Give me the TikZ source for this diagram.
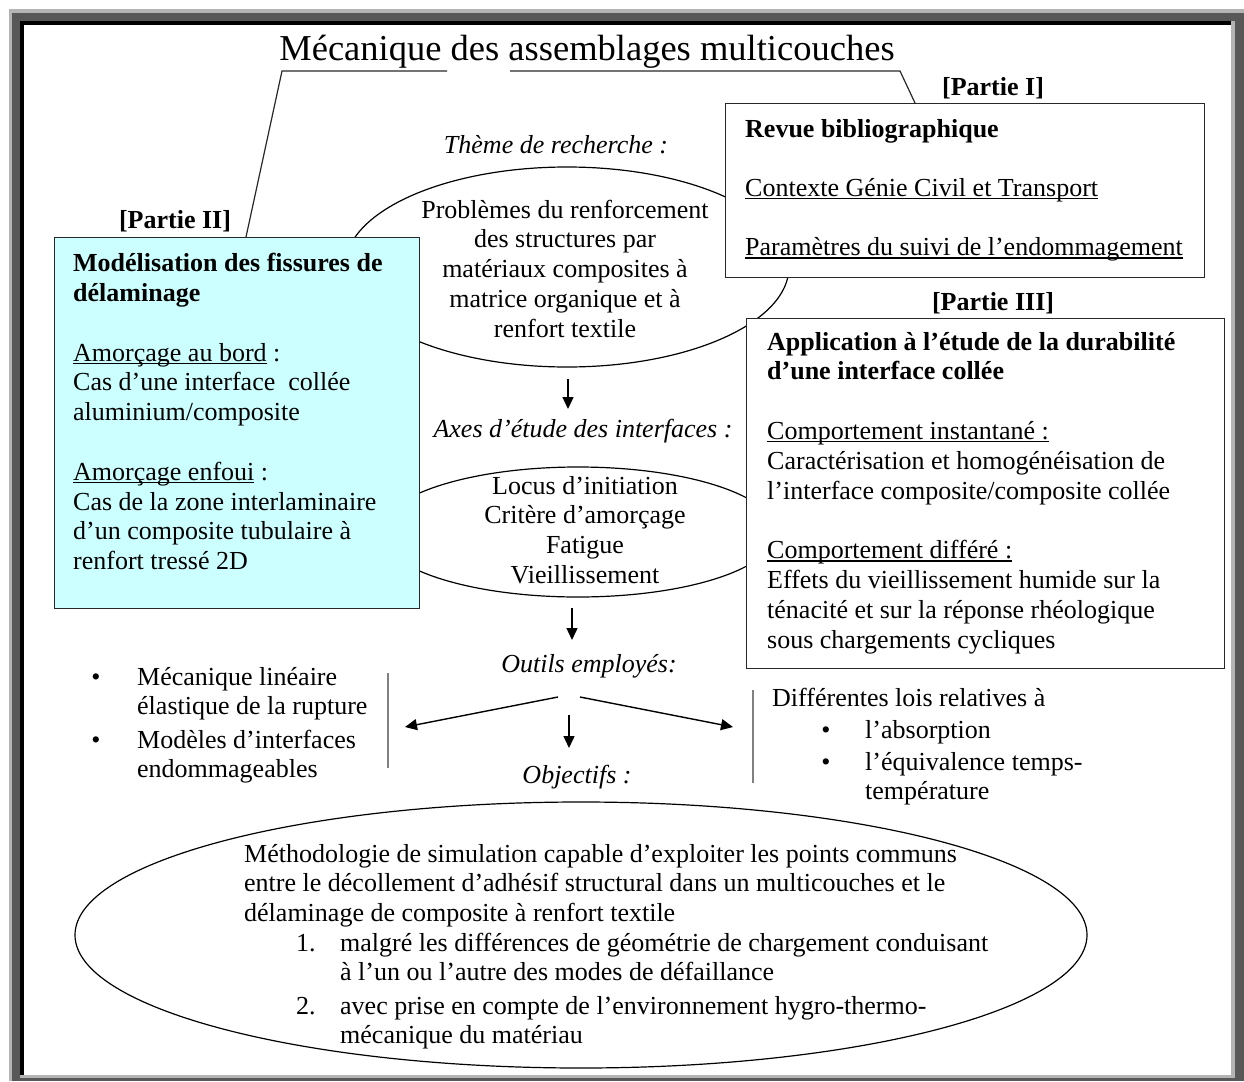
\documentclass[tikz,border=0pt]{standalone}
\usepackage{fontspec}
\setmainfont{Liberation Serif}
\usetikzlibrary{arrows.meta,shapes.geometric}
\definecolor{boxcyan}{RGB}{204,255,255}
\definecolor{framelight}{RGB}{180,180,180}
\definecolor{framedark}{RGB}{88,88,88}
\definecolor{linecol}{RGB}{40,40,40}
\newcommand\uln[1]{\leavevmode\setbox0\hbox{#1}\rlap{\rule[-3pt]{\wd0}{1.2pt}}\box0}
\tikzset{
 body/.style={font=\fontsize{26}{29.8}\selectfont, inner sep=0pt},
 blockl/.style={body, align=left, anchor=north west},
 blockc/.style={body, align=center, anchor=north},
 lbl/.style={font=\fontsize{26}{29.8}\selectfont\itshape, inner sep=0pt, anchor=base},
 tag/.style={font=\fontsize{26}{29.8}\selectfont\bfseries, inner sep=0pt, anchor=base},
 panel/.style={draw=linecol, line width=1.3pt, anchor=north west, inner sep=0pt},
 oval/.style={ellipse, draw=black, line width=1.2pt, inner sep=0pt},
 arr/.style={line width=1.4pt, -{Triangle[length=12pt,width=11pt]}},
 bar/.style={draw=gray, line width=1.6pt},
 callout/.style={draw=linecol, line width=1.2pt},
}
\begin{document}
\begin{tikzpicture}[x=1pt,y=-1pt]
\useasboundingbox (0,0) rectangle (1244,1081);
% frame
\fill[framelight] (9,9) rectangle (1244,1081);
\fill[framedark] (12,13) rectangle (1244,1081);
\fill[framelight] (20,21) rectangle (1235,1078);
\fill[black] (20,21) rectangle (1231,1075);
\fill[white] (24,25) rectangle (1231,1075);

% ellipses (behind boxes)
\node[oval, minimum width=444pt, minimum height=200pt] (theme) at (567,267) {};
\node[oval, minimum width=396pt, minimum height=130pt] (axes) at (578,532) {};
\node[oval, minimum width=1012pt, minimum height=266pt] (goal) at (581,935) {};

% boxes
\node[panel, fill=boxcyan, minimum width=365pt, minimum height=371pt] (leftbox) at (54,237) {};
\node[panel, fill=white, minimum width=479pt, minimum height=174pt] (bibbox) at (725,103) {};
\node[panel, fill=white, minimum width=478pt, minimum height=350pt] (appbox) at (746,318) {};

% title and callout lines
\node[font=\fontsize{36.5}{40}\selectfont, inner sep=0pt, anchor=base] (title) at (587,60) {Mécanique des assemblages multicouches};
\coordinate (k1) at (282,71);
\coordinate (k2) at (447,71);
\coordinate (k3) at (510,71);
\coordinate (k4) at (900,71);
\draw[callout] ([xshift=192pt]leftbox.north west) -- (k1) -- (k2);
\draw[callout] (k3) -- (k4) -- ([xshift=190pt]bibbox.north west);

% part tags
\node[tag] (t2) at (175,228) {[Partie II]};
\node[tag] (t1) at (993,95) {[Partie I]};
\node[tag] (t3) at (993,310) {[Partie III]};

% left box text
\node[blockl] (lefttxt) at (73,250.6) {\strut\textbf{Modélisation des fissures de}\\\textbf{délaminage}\\[29.8pt]
\uln{Amorçage au bord}\ :\\Cas d’une interface\ \ collée\\aluminium/composite\\[29.8pt]
\uln{Amorçage enfoui}\ :\\Cas de la zone interlaminaire\\d’un composite tubulaire à\\renfort tressé 2D};

% bib box text
\node[blockl] (bibtxt) at (745,116) {\strut\textbf{Revue bibliographique}\\[29.5pt]
\uln{Contexte Génie Civil et Transport}\\[29.5pt]
\uln{Paramètres du suivi de l’endommagement}};

% application box text
\node[blockl] (apptxt) at (767,329) {\strut\textbf{Application à l’étude de la durabilité}\\\textbf{d’une interface collée}\\[29.8pt]
\uln{Comportement instantané :}\\Caractérisation et homogénéisation de\\l’interface composite/composite collée\\[29.8pt]
\uln{Comportement différé :}\\Effets du vieillissement humide sur la\\ténacité et sur la réponse rhéologique\\sous chargements cycliques};

% theme ellipse
\node[lbl] (themelbl) at (556,153) {Thème de recherche :};
\node[blockc] (themetxt) at (565,197) {\strut Problèmes du renforcement\\des structures par\\matériaux composites à\\matrice organique et à\\renfort textile};
\coordinate (a1s) at (568,379);
\coordinate (a1e) at (568,409);
\draw[arr] (a1s) -- (a1e);

% axes ellipse
\node[lbl] (axeslbl) at (583,437) {Axes d’étude des interfaces :};
\node[blockc] (axestxt) at (585,473) {\strut Locus d’initiation\\Critère d’amorçage\\Fatigue\\Vieillissement};
\coordinate (a2s) at (572,608);
\coordinate (a2e) at (572,640);
\draw[arr] (a2s) -- (a2e);

% tools
\node[lbl] (toolslbl) at (589,672) {Outils employés:};
\coordinate (o1) at (558,697);
\coordinate (o2) at (580,697);
\coordinate (o3) at (569,715);
\coordinate (ol) at (405,727);
\coordinate (or) at (733,727);
\coordinate (om) at (569,748);
\draw[arr] (o1) -- (ol);
\draw[arr] (o2) -- (or);
\draw[arr] (o3) -- (om);
\coordinate (b1t) at (388,673);
\coordinate (b1b) at (388,768);
\coordinate (b2t) at (753,690);
\coordinate (b2b) at (753,783);
\draw[bar] (b1t) -- (b1b);
\draw[bar] (b2t) -- (b2b);

% left bullet list
\node[body, anchor=base] (lbul1) at (96,685) {•};
\node[blockl] (litem1) at (137,664) {\strut Mécanique linéaire\\élastique de la rupture};
\node[body, anchor=base] (lbul2) at (96,748) {•};
\node[blockl] (litem2) at (137,727) {\strut Modèles d’interfaces\\endommageables};

% right list
\node[blockl] (rhead) at (772,685) {\strut Différentes lois relatives à};
\node[body, anchor=base] (rbul1) at (826,738) {•};
\node[blockl] (ritem1) at (865,717) {\strut l’absorption};
\node[body, anchor=base] (rbul2) at (826,770) {•};
\node[blockl] (ritem2) at (865,749) {\strut l’équivalence temps-\\température};

% objectives
\node[lbl] (objlbl) at (577,783) {Objectifs :};
\node[blockl] (goaltxt) at (244,841) {\strut Méthodologie de simulation capable d’exploiter les points communs\\entre le décollement d’adhésif structural dans un multicouches et le\\délaminage de composite à renfort textile};
\node[body, anchor=base west] (n1) at (296,951) {1.};
\node[blockl] (g1) at (340,930) {\strut malgré les différences de géométrie de chargement conduisant\\à l’un ou l’autre des modes de défaillance};
\node[body, anchor=base west] (n2) at (296,1014) {2.};
\node[blockl] (g2) at (340,993) {\strut avec prise en compte de l’environnement hygro-thermo-\\mécanique du matériau};
\end{tikzpicture}
\end{document}
